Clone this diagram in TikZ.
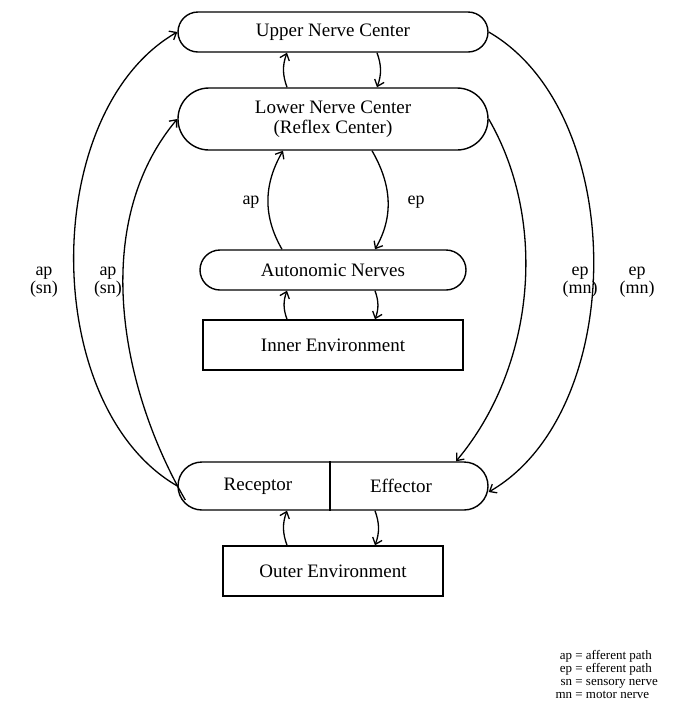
\documentclass[tikz,border=0pt]{standalone}
\usepackage{fontspec}
\setmainfont{Liberation Serif}
\usetikzlibrary{arrows.meta,shapes.misc}
\begin{document}
\begin{tikzpicture}[x=1pt,y=-1pt,
  rbox/.style={draw,line width=1.4pt,rounded rectangle,minimum width=310pt,font=\fontsize{19}{20}\selectfont,align=center,inner sep=0pt},
  sbox/.style={draw,line width=1.4pt,rectangle,font=\fontsize{19}{20}\selectfont,inner sep=0pt},
  arr/.style={line width=1.3pt,-{Straight Barb[length=6pt,width=10pt]}},
  lab/.style={font=\fontsize{18}{18}\selectfont,align=center},
  leg/.style={font=\fontsize{13}{13}\selectfont,align=left,inner sep=0pt}]
\useasboundingbox (0,0) rectangle (674,721);
\node[rbox,minimum height=40pt] (upper) at (333,32) {Upper Nerve Center};
\node[rbox,minimum height=62pt] (lower) at (333,119) {Lower Nerve Center\\(Reflex Center)};
\node[rbox,minimum width=266pt,minimum height=40pt] (auto) at (333,270) {Autonomic Nerves};
\node[sbox,minimum width=260pt,minimum height=50pt] (inner) at (333,345) {Inner Environment};
\node[rbox,minimum height=48pt] (re) at (333,486) {};
\draw[line width=1.4pt] (re.north) ++(-3,0) coordinate (dt) -- (dt |- re.south);
\node[font=\fontsize{19}{20}\selectfont] (rec) at (258,486) {Receptor};
\node[font=\fontsize{19}{20}\selectfont] (eff) at (401,486) {Effector};
\node[sbox,minimum width=220pt,minimum height=50pt] (outer) at (333,571) {Outer Environment};
% short arrows
\draw[arr] ([xshift=-46pt]lower.north) to[out=110,in=-110] ([xshift=-46pt]upper.south);
\draw[arr] ([xshift=44pt]upper.south) to[out=-70,in=70] ([xshift=44pt]lower.north);
\draw[arr] ([xshift=-46pt]inner.north) to[out=110,in=-110] ([xshift=-46pt]auto.south);
\draw[arr] ([xshift=42pt]auto.south) to[out=-70,in=70] ([xshift=42pt]inner.north);
\draw[arr] ([xshift=-46pt]outer.north) to[out=110,in=-110] ([xshift=-46pt]re.south);
\draw[arr] ([xshift=42pt]re.south) to[out=-70,in=70] ([xshift=42pt]outer.north);
% ap / ep loops
\draw[arr] ([xshift=-51pt]auto.north) to[out=120,in=-120] ([xshift=-50pt]lower.south);
\draw[arr] ([xshift=39pt]lower.south) to[out=-60,in=60] ([xshift=42pt]auto.north);
\node[lab] (ap0) at (251,202) {ap};
\node[lab] (ep0) at (416,202) {ep};
% long arrows
\draw[arr] (re.west) to[out=150,in=-150,looseness=0.9] (upper.west);
\draw[arr] ([xshift=8pt,yshift=-14pt]re.west) to[out=120,in=-130,looseness=0.9] (lower.west);
\draw[arr] (upper.east) to[out=-30,in=30,looseness=0.9] ([yshift=-6pt]re.east);
\draw[arr] (lower.east) to[out=-60,in=50,looseness=0.9] ([xshift=-8pt]re.north east);
\node[lab] (l1) at (44,282) {ap\\(sn)};
\node[lab] (l2) at (108,282) {ap\\(sn)};
\node[lab] (r1) at (580,282) {ep\\(mn)};
\node[lab] (r2) at (637,282) {ep\\(mn)};
\node[leg,anchor=north east] (legend) at (658,650) {\begin{tabular}{@{}r@{ = }l@{}}ap & afferent path\\ ep & efferent path\\ sn & sensory nerve\\ mn & motor nerve\end{tabular}};
\end{tikzpicture}
\end{document}
